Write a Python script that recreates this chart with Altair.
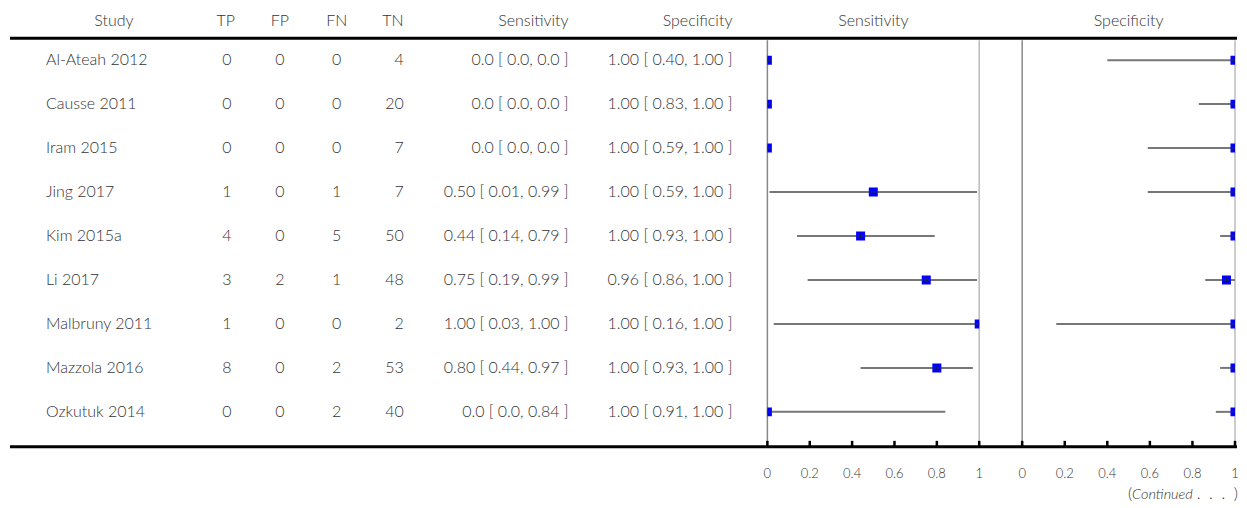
import altair as alt
import pandas as pd

studies = ["Al-Ateah 2012", "Causse 2011", "Iram 2015", "Jing 2017", "Kim 2015a",
           "Li 2017", "Malbruny 2011", "Mazzola 2016", "Ozkutuk 2014"]
tp = [0, 0, 0, 1, 4, 3, 1, 8, 0]
fp = [0, 0, 0, 0, 0, 2, 0, 0, 0]
fn = [0, 0, 0, 1, 5, 1, 0, 2, 2]
tn = [4, 20, 7, 7, 50, 48, 2, 53, 40]
sens = [0.0, 0.0, 0.0, 0.50, 0.44, 0.75, 1.00, 0.80, 0.0]
sens_lo = [0.0, 0.0, 0.0, 0.01, 0.14, 0.19, 0.03, 0.44, 0.0]
sens_hi = [0.0, 0.0, 0.0, 0.99, 0.79, 0.99, 1.00, 0.97, 0.84]
sens_txt = ["0.0 [ 0.0, 0.0 ]", "0.0 [ 0.0, 0.0 ]", "0.0 [ 0.0, 0.0 ]",
            "0.50 [ 0.01, 0.99 ]", "0.44 [ 0.14, 0.79 ]", "0.75 [ 0.19, 0.99 ]",
            "1.00 [ 0.03, 1.00 ]", "0.80 [ 0.44, 0.97 ]", "0.0 [ 0.0, 0.84 ]"]
spec = [1.00, 1.00, 1.00, 1.00, 1.00, 0.96, 1.00, 1.00, 1.00]
spec_lo = [0.40, 0.83, 0.59, 0.59, 0.93, 0.86, 0.16, 0.93, 0.91]
spec_hi = [1.00, 1.00, 1.00, 1.00, 1.00, 1.00, 1.00, 1.00, 1.00]
spec_txt = ["1.00 [ 0.40, 1.00 ]", "1.00 [ 0.83, 1.00 ]", "1.00 [ 0.59, 1.00 ]",
            "1.00 [ 0.59, 1.00 ]", "1.00 [ 0.93, 1.00 ]", "0.96 [ 0.86, 1.00 ]",
            "1.00 [ 0.16, 1.00 ]", "1.00 [ 0.93, 1.00 ]", "1.00 [ 0.91, 1.00 ]"]
tick_values = [0, 0.2, 0.4, 0.6, 0.8, 1]
tick_labels = ["0", "0.2", "0.4", "0.6", "0.8", "1"]
ref_lines = [0, 1]
ref_colors = ["#888888", "#bbbbbb"]

df = pd.DataFrame({
    "study": studies, "TP": tp, "FP": fp, "FN": fn, "TN": tn,
    "sens": sens, "sens_lo": sens_lo, "sens_hi": sens_hi, "sens_txt": sens_txt,
    "spec": spec, "spec_lo": spec_lo, "spec_hi": spec_hi, "spec_txt": spec_txt,
})
ticks_df = pd.DataFrame({"v": tick_values, "lab": tick_labels})
ref_df = pd.DataFrame({"v": ref_lines, "c": ref_colors})

FONT = "Lato"
TXT = "#333333"
FS = 16
H = 482
ROW_Y = alt.Y("study:N", sort=studies, axis=None,
              scale=alt.Scale(type="point", range=[52, 404], padding=0))

base = alt.Chart(df)


def col_text(field, x, align):
    return base.mark_text(font=FONT, fontSize=FS, fontWeight=300, color=TXT,
                          align=align, baseline="middle").encode(
        x=alt.value(x), y=ROW_Y, text=f"{field}:N")


def header(label, x, align):
    return alt.Chart(pd.DataFrame({"t": [label]})).mark_text(
        font=FONT, fontSize=FS, fontWeight=300, color=TXT, align=align,
        baseline="middle").encode(x=alt.value(x), y=alt.value(13), text="t:N")


hline = alt.Chart(pd.DataFrame({"y": [30, 439]})).mark_rule(
    color="black", strokeWidth=3).encode(
    x=alt.value(0), x2=alt.value(1228), y=alt.Y("y:Q", scale=None))

table = alt.layer(
    hline,
    header("Study", 104, "center"), header("TP", 216, "center"),
    header("FP", 270, "center"), header("FN", 327, "center"),
    header("TN", 394, "right"), header("Sensitivity", 559, "right"),
    header("Specificity", 723, "right"),
    col_text("study", 36, "left"), col_text("TP", 217, "center"),
    col_text("FP", 270, "center"), col_text("FN", 327, "center"),
    col_text("TN", 394, "right"), col_text("sens_txt", 559, "right"),
    col_text("spec_txt", 723, "right"),
).properties(width=758, height=H)


def forest(est, lo, hi, title, width, extra=None):
    xs = alt.Scale(domain=[0, 1], nice=False, zero=False)
    refs = alt.Chart(ref_df).mark_rule(strokeWidth=1.5).encode(
        x=alt.X("v:Q", scale=xs, axis=None),
        y=alt.value(32), y2=alt.value(438),
        color=alt.Color("c:N", scale=None))
    ci = base.mark_rule(color="#777777", strokeWidth=2).encode(
        x=alt.X(f"{lo}:Q", scale=xs, axis=None), x2=f"{hi}:Q", y=ROW_Y)
    squares = base.mark_square(size=81, color="#0000ff", opacity=1, clip=True).encode(
        x=alt.X(f"{est}:Q", scale=xs, axis=None), y=ROW_Y)
    cross_v = base.mark_tick(color="#222222", size=5, thickness=1, clip=True,
                             orient="vertical").encode(
        x=alt.X(f"{est}:Q", scale=xs, axis=None), y=ROW_Y)
    cross_h = base.mark_tick(color="#333333", size=8, thickness=1, clip=True,
                             orient="horizontal").encode(
        x=alt.X(f"{est}:Q", scale=xs, axis=None), y=ROW_Y)
    tks = alt.Chart(ticks_df).mark_rule(color="black", strokeWidth=2.5).encode(
        x=alt.X("v:Q", scale=xs, axis=None), y=alt.value(433), y2=alt.value(439))
    labs = alt.Chart(ticks_df).mark_text(font=FONT, fontSize=13, fontWeight=300,
                                         color=TXT, baseline="middle").encode(
        x=alt.X("v:Q", scale=xs, axis=None), y=alt.value(466), text="lab:N")
    head = alt.Chart(pd.DataFrame({"t": [title]})).mark_text(
        font=FONT, fontSize=FS, fontWeight=300, color=TXT, baseline="middle").encode(
        x=alt.value(width / 2), y=alt.value(13), text="t:N")
    layers = [refs, ci, squares, cross_h, cross_v, tks, labs, head]
    if extra is not None:
        layers += extra
    return alt.layer(*layers).properties(width=width, height=H)


NB = "\u00a0"
cont = [
    alt.Chart(pd.DataFrame({"t": ["("]})).mark_text(
        font=FONT, fontSize=16, fontWeight=300, color=TXT, align="right",
        baseline="middle").encode(x=alt.value(110), y=alt.value(486), text="t:N"),
    alt.Chart(pd.DataFrame({"t": ["Continued"]})).mark_text(
        font=FONT, fontSize=14.5, fontWeight=300, fontStyle="italic", color=TXT,
        align="left", baseline="middle").encode(x=alt.value(110), y=alt.value(487), text="t:N"),
    alt.Chart(pd.DataFrame({"t": [f".{NB}{NB}.{NB}{NB}.{NB}{NB})"]})).mark_text(
        font=FONT, fontSize=16, fontWeight=300, color=TXT, align="right",
        baseline="middle").encode(x=alt.value(216), y=alt.value(486), text="t:N"),
]

sens_panel = forest("sens", "sens_lo", "sens_hi", "Sensitivity", 212)
spec_panel = forest("spec", "spec_lo", "spec_hi", "Specificity", 213, extra=cont)

chart = alt.hconcat(
    table,
    alt.hconcat(sens_panel, spec_panel, spacing=43, bounds="flush"),
    spacing=0, bounds="flush",
).properties(padding=0, background="white").configure_view(
    strokeWidth=0, stroke="transparent")

chart.save("out.html", embed_options={"renderer": "svg", "actions": False})
